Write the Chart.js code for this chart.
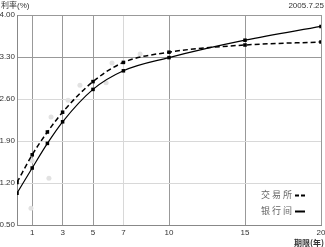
<!DOCTYPE html>
<html>
<head>
<meta charset="utf-8">
<script src="https://cdn.jsdelivr.net/npm/chart.js@4.4.0/dist/chart.umd.min.js"></script>
<style>
  html, body { margin: 0; padding: 0; background: #fff; }
  #wrap { width: 325px; height: 247px; }
</style>
</head>
<body>
<div id="wrap"><canvas id="curveChart" width="325" height="247"></canvas></div>
<script>
// terms (years) and yields (%)
const terms = [0, 1, 2, 3, 5, 7, 10, 15, 20];
const exchangeRates = [1.21, 1.67, 2.05, 2.38, 2.89, 3.21, 3.38, 3.50, 3.55];
const interbankRates = [1.03, 1.45, 1.86, 2.22, 2.76, 3.07, 3.29, 3.58, 3.81];

// raw sample points (light grey)
const rawTerms = [0.92, 0.99, 2.1, 2.24, 3.36, 4.14, 5.86, 6.25, 8.1];
const rawRates = [0.78, 1.57, 1.28, 2.30, 2.58, 2.83, 2.87, 3.20, 3.35];

const xTicks = [1, 3, 5, 7, 10, 15, 20];
const yTicks = [0.5, 1.2, 1.9, 2.6, 3.3, 4.0];

const seriesLabels = ["交易所", "银行间"];

const toPoints = (xs, ys) => xs.map((x, i) => ({ x: x, y: ys[i] }));

// Corner texts and legend
const textPlugin = {
  id: "cornerText",
  afterDraw(chart) {
    const c = chart.ctx;
    c.save();
    c.fillStyle = "#333";
    c.font = "8px 'Liberation Sans', 'Noto Sans CJK SC'";
    c.textBaseline = "top";
    c.textAlign = "left";
    c.fillText("利率(%)", 1, 2);
    c.textAlign = "right";
    c.fillText("2005.7.25", 324, 2);
    c.font = "bold 8px 'Noto Sans CJK SC'";
    c.textBaseline = "bottom";
    c.fillText("期限(年)", 324, 247);

    // legend
    c.font = "9px 'Noto Sans CJK SC'";
    c.textAlign = "right";
    c.textBaseline = "middle";
    c.fillStyle = "#666";
    const lx = 292;
    const rows = [
      { label: seriesLabels[0], y: 195, dash: [4, 2] },
      { label: seriesLabels[1], y: 211, dash: [] },
    ];
    rows.forEach((r) => {
      c.fillText(r.label.split("").join(" "), lx, r.y);
      c.beginPath();
      c.setLineDash(r.dash);
      c.lineWidth = 2;
      c.strokeStyle = "#000";
      c.moveTo(lx + 3, r.y + 0.5);
      c.lineTo(lx + 13, r.y + 0.5);
      c.stroke();
    });
    c.restore();
  },
};

const ctx = document.getElementById("curveChart").getContext("2d");
const curveChart = new Chart(ctx, {
  type: "scatter",
  data: {
    datasets: [
      {
        label: "raw",
        data: toPoints(rawTerms, rawRates),
        showLine: false,
        pointStyle: "circle",
        pointRadius: 2.5,
        pointBorderWidth: 0,
        pointBackgroundColor: "#e2e2e2",
        order: 3,
      },
      {
        label: seriesLabels[0],
        data: toPoints(terms, exchangeRates),
        showLine: true,
        borderColor: "#000",
        borderWidth: 1.5,
        borderDash: [5, 3],
        cubicInterpolationMode: "monotone",
        pointStyle: "rect",
        pointRadius: 2.5,
        pointBorderWidth: 0,
        pointBackgroundColor: "#000",
        order: 1,
      },
      {
        label: seriesLabels[1],
        data: toPoints(terms, interbankRates),
        showLine: true,
        borderColor: "#000",
        borderWidth: 1.2,
        cubicInterpolationMode: "monotone",
        pointStyle: "rect",
        pointRadius: 2.5,
        pointBorderWidth: 0,
        pointBackgroundColor: "#000",
        order: 2,
      },
    ],
  },
  options: {
    responsive: false,
    animation: false,
    layout: { padding: { top: 15, right: 0, left: 0, bottom: 0 } },
    plugins: {
      legend: { display: false },
      tooltip: { enabled: false },
    },
    scales: {
      x: {
        type: "linear",
        min: 0,
        max: 20,
        afterBuildTicks: (scale) => {
          scale.ticks = xTicks.map((v) => ({ value: v }));
        },
        afterFit: (scale) => {
          scale.height = 22;
          scale.paddingRight = 4;
        },
        grid: {
          color: (c) => (c.tick && c.tick.value === 7 ? "#d8d8d8" : "#999"),
          lineWidth: 1,
          drawTicks: false,
        },
        border: { color: "#888" },
        ticks: {
          padding: 3,
          color: "#333",
          font: { family: "Liberation Sans", size: 8 },
          maxRotation: 0,
          autoSkip: false,
        },
      },
      y: {
        min: 0.5,
        max: 4.0,
        afterBuildTicks: (scale) => {
          scale.ticks = yTicks.map((v) => ({ value: v }));
        },
        afterFit: (scale) => {
          scale.width = 17;
        },
        grid: {
          color: (c) =>
            c.tick && (c.tick.value === 3.3 || c.tick.value === 4.0 || c.tick.value === 0.5)
              ? "#999"
              : "#d8d8d8",
          lineWidth: 1,
          drawTicks: false,
        },
        border: { color: "#888" },
        ticks: {
          padding: 2,
          color: "#333",
          font: { family: "Liberation Sans", size: 8 },
          callback: (v) => v.toFixed(2),
          autoSkip: false,
        },
      },
    },
  },
  plugins: [textPlugin],
});
</script>
</body>
</html>
